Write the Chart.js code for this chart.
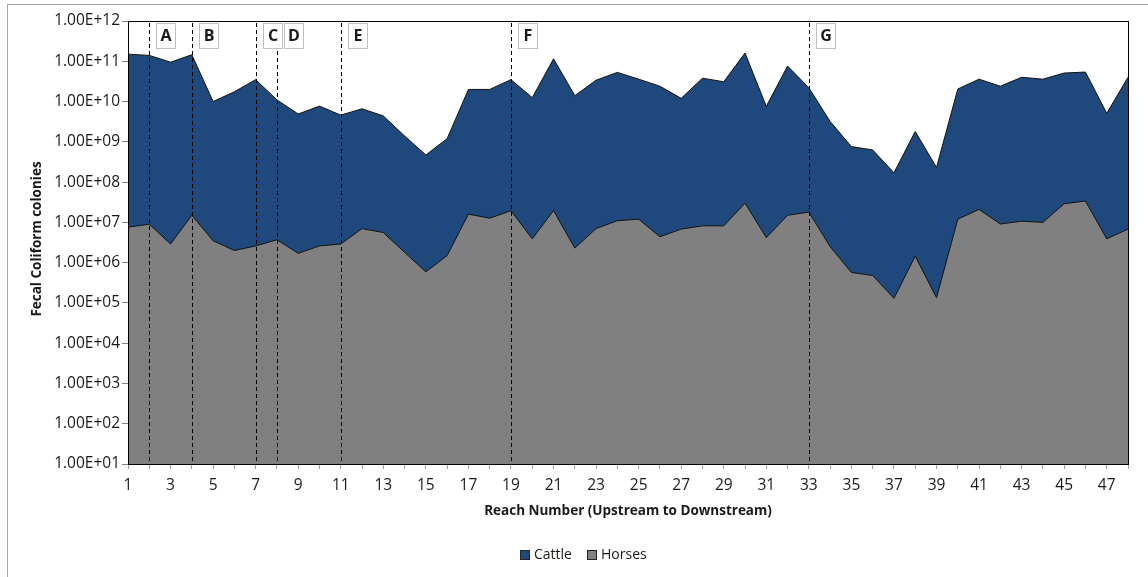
<!DOCTYPE html>
<html>
<head>
<meta charset="utf-8">
<script src="https://cdn.jsdelivr.net/npm/chart.js@4.4.1/dist/chart.umd.min.js"></script>
<style>
  html, body { margin: 0; padding: 0; background: #ffffff; }
  #wrap { width: 1148px; height: 577px; position: relative; }
</style>
</head>
<body>
<div id="wrap"><canvas id="chart" width="1148" height="577"></canvas></div>
<script>
// Reach numbers along the stream, upstream to downstream
const reaches = ['1','2','3','4','5','6','7','8','9','10','11','12','13','14','15','16',
  '17','18','19','20','21','22','23','24','25','26','27','28','29','30','31','32',
  '33','34','35','36','37','38','39','40','41','42','43','44','45','46','47','48'];

// Fecal coliform colonies attributed to cattle, per reach
const cattle = [1.5e11, 1.4e11, 9.5e10, 1.45e11, 1.0e10, 1.75e10, 3.5e10, 1.1e10,
  4.9e9, 7.7e9, 4.6e9, 6.6e9, 4.4e9, 1.4e9, 4.7e8, 1.2e9,
  2.0e10, 2.0e10, 3.5e10, 1.25e10, 1.15e11, 1.4e10, 3.4e10, 5.3e10,
  3.6e10, 2.4e10, 1.2e10, 3.8e10, 3.1e10, 1.6e11, 7.6e9, 7.6e10,
  2.2e10, 3.2e9, 7.6e8, 6.3e8, 1.7e8, 1.8e9, 2.3e8, 2.05e10,
  3.6e10, 2.4e10, 4.0e10, 3.6e10, 5.1e10, 5.4e10, 5.1e9, 4.0e10];

// Fecal coliform colonies attributed to horses, per reach
const horses = [7.6e6, 9.0e6, 2.9e6, 1.5e7, 3.5e6, 2.0e6, 2.6e6, 3.7e6,
  1.7e6, 2.6e6, 2.9e6, 7.0e6, 5.6e6, 1.8e6, 5.9e5, 1.5e6,
  1.6e7, 1.27e7, 1.95e7, 3.9e6, 1.96e7, 2.3e6, 7.0e6, 1.1e7,
  1.2e7, 4.4e6, 6.8e6, 8.2e6, 8.2e6, 3.0e7, 4.2e6, 1.5e7,
  1.8e7, 2.5e6, 5.7e5, 4.8e5, 1.3e5, 1.45e6, 1.35e5, 1.2e7,
  2.1e7, 9.1e6, 1.07e7, 1.0e7, 2.9e7, 3.4e7, 3.9e6, 6.8e6];

// Segment boundaries marked with dashed lines
const markerReaches = ['2','4','7','8','11','19','33'];
const markerLabels = ['A','B','C','D','E','F','G'];

// Log axis ticks (powers of ten)
const yTicks = [1e1, 1e2, 1e3, 1e4, 1e5, 1e6, 1e7, 1e8, 1e9, 1e10, 1e11, 1e12];

const FONT = "'Open Sans', 'Noto Sans', sans-serif";
const TEXT = '#1a1a1a';

function sciLabel(v) {
  const e = Math.round(Math.log10(v));
  const m = v / Math.pow(10, e);
  const ee = String(Math.abs(e)).padStart(2, '0');
  return m.toFixed(2) + 'E' + (e < 0 ? '-' : '+') + ee;
}

const decorations = {
  id: 'decorations',
  afterDatasetsDraw(chart) {
    const { ctx, chartArea: a, scales } = chart;
    const x = scales.x;
    ctx.save();

    // segment boundary lines
    ctx.strokeStyle = '#000000';
    ctx.lineWidth = 1;
    ctx.setLineDash([4, 3]);
    markerReaches.forEach(r => {
      const px = Math.round(x.getPixelForValue(reaches.indexOf(r))) + 0.5;
      ctx.beginPath();
      ctx.moveTo(px, a.top + 2);
      ctx.lineTo(px, a.bottom);
      ctx.stroke();
    });
    ctx.setLineDash([]);

    // segment letters in small boxes
    ctx.font = "bold 16px " + FONT;
    ctx.textAlign = 'center';
    ctx.textBaseline = 'middle';
    markerReaches.forEach((r, i) => {
      const px = Math.round(x.getPixelForValue(reaches.indexOf(r)));
      const bx = px + 7, by = a.top + 2, bw = 19, bh = 25;
      ctx.fillStyle = '#ffffff';
      ctx.fillRect(bx, by, bw, bh);
      ctx.strokeStyle = '#bfbfbf';
      ctx.strokeRect(bx + 0.5, by + 0.5, bw, bh);
      ctx.fillStyle = TEXT;
      ctx.fillText(markerLabels[i], bx + bw / 2 + 0.5, by + bh / 2 + 1);
    });

    // plot frame
    ctx.strokeStyle = '#000000';
    ctx.lineWidth = 1;
    ctx.strokeRect(Math.round(a.left) + 0.5, Math.round(a.top) + 0.5,
      Math.round(a.right - a.left), Math.round(a.bottom - a.top));
    ctx.restore();
  },
  afterDraw(chart) {
    const { ctx } = chart;
    ctx.save();
    // outer chart border
    ctx.strokeStyle = '#a6a6a6';
    ctx.lineWidth = 1;
    ctx.strokeRect(7.5, 4.5, 1300, 700);

    // axis titles
    ctx.fillStyle = TEXT;
    ctx.font = "bold 13.5px " + FONT;
    ctx.textAlign = 'center';
    ctx.textBaseline = 'middle';
    ctx.fillText('Reach Number (Upstream to Downstream)', 628, 511);
    ctx.save();
    ctx.translate(37, 239);
    ctx.rotate(-Math.PI / 2);
    ctx.fillText('Fecal Coliform colonies', 0, 0);
    ctx.restore();

    // legend
    const items = [
      { text: 'Cattle', color: '#1f497d', x: 520 },
      { text: 'Horses', color: '#808080', x: 587 }
    ];
    ctx.font = "14px " + FONT;
    ctx.textAlign = 'left';
    items.forEach(it => {
      ctx.fillStyle = it.color;
      ctx.fillRect(it.x, 550, 10, 10);
      ctx.strokeStyle = '#262626';
      ctx.strokeRect(it.x + 0.5, 550.5, 9, 9);
      ctx.fillStyle = TEXT;
      ctx.fillText(it.text, it.x + 14, 555);
    });
    ctx.restore();
  }
};

new Chart(document.getElementById('chart'), {
  type: 'line',
  data: {
    labels: reaches,
    datasets: [
      {
        label: 'Cattle',
        data: cattle,
        backgroundColor: '#1f497d',
        borderColor: '#111111',
        borderWidth: 1,
        fill: 'start',
        pointRadius: 0,
        tension: 0,
        order: 2
      },
      {
        label: 'Horses',
        data: horses,
        backgroundColor: '#808080',
        borderColor: '#111111',
        borderWidth: 1,
        fill: 'start',
        pointRadius: 0,
        tension: 0,
        order: 1
      }
    ]
  },
  options: {
    responsive: false,
    animation: false,
    devicePixelRatio: 1,
    layout: { padding: { left: 0, right: 20, top: 21, bottom: 0 } },
    plugins: {
      legend: { display: false },
      tooltip: { enabled: false }
    },
    scales: {
      x: {
        type: 'category',
        offset: false,
        afterFit(scale) { scale.height = 113; },
        grid: {
          display: true,
          drawOnChartArea: false,
          drawTicks: true,
          tickLength: 5,
          color: '#a6a6a6'
        },
        border: { display: true, color: '#000000', width: 1 },
        ticks: {
          autoSkip: false,
          maxRotation: 0,
          padding: 7,
          color: TEXT,
          font: { family: FONT, size: 15.5 },
          callback(value, index) { return index % 2 === 0 ? reaches[index] : ''; }
        }
      },
      y: {
        type: 'logarithmic',
        min: 1e1,
        max: 1e12,
        afterFit(scale) { scale.width = 128; },
        afterBuildTicks(scale) { scale.ticks = yTicks.map(v => ({ value: v })); },
        grid: {
          display: true,
          drawOnChartArea: false,
          drawTicks: true,
          tickLength: 6,
          color: '#7f7f7f'
        },
        border: { display: true, color: '#000000', width: 1 },
        ticks: {
          padding: 2,
          color: TEXT,
          font: { family: FONT, size: 15.5 },
          callback(value) { return sciLabel(value); }
        }
      }
    }
  },
  plugins: [decorations]
});
</script>
</body>
</html>
